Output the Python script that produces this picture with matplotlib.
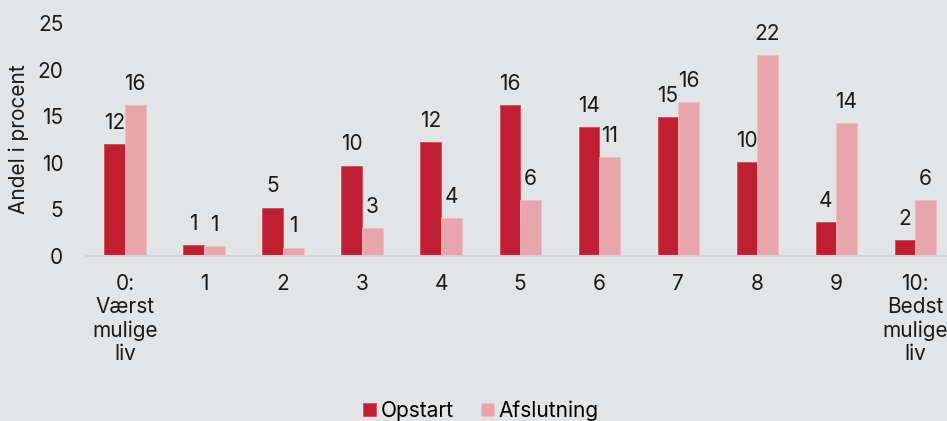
import numpy as np
import matplotlib.pyplot as plt

plt.rcParams['font.family'] = ['Inter', 'DejaVu Sans']

# data
categories = ["0:\nVærst\nmulige\nliv", "1", "2", "3", "4", "5", "6", "7", "8", "9",
              "10:\nBedst\nmulige\nliv"]
opstart = [12.0, 1.2, 5.2, 9.7, 12.2, 16.2, 13.8, 14.9, 10.1, 3.6, 1.7]
afslutning = [16.2, 1.1, 0.9, 3.0, 4.1, 6.0, 10.6, 16.5, 21.6, 14.3, 6.0]
opstart_labels = [12, 1, 5, 10, 12, 16, 14, 15, 10, 4, 2]
afslutning_labels = [16, 1, 1, 3, 4, 6, 11, 16, 22, 14, 6]

BG = "#e3e4e6"
RED = "#c01f32"
PINK = "#e8a6ac"
FS = 15

fig = plt.figure(figsize=(9.47, 4.21), dpi=100, facecolor=BG)
ax = fig.add_axes([0.0903, 0.392, 0.9177, 0.5534])
ax.set_facecolor(BG)

x = np.arange(len(categories))
w = 0.26
b1 = ax.bar(x - w / 2, opstart, w, color=RED, edgecolor="#d24a58", linewidth=0.6, label="Opstart")
b2 = ax.bar(x + w / 2, afslutning, w, color=PINK, edgecolor="#efbcc0", linewidth=0.6, label="Afslutning")

for bars, labels in ((b1, opstart_labels), (b2, afslutning_labels)):
    for bar, lab in zip(bars, labels):
        ax.annotate(str(lab), (bar.get_x() + bar.get_width() / 2, bar.get_height()),
                    xytext=(0, 8), textcoords="offset points",
                    ha="center", va="bottom", fontsize=FS, color="#1a1a1a")

ax.set_xlim(-0.5, len(categories) - 0.5)
ax.set_ylim(0, 25)
ax.set_yticks([0, 5, 10, 15, 20, 25])
ax.set_xticks(x)
ax.set_xticklabels(categories, fontsize=FS, linespacing=1.2)
ax.tick_params(axis="y", length=0, pad=16, labelsize=FS, labelcolor="#1a1a1a")
ax.tick_params(axis="x", length=0, pad=13, labelcolor="#1a1a1a")
ax.set_ylabel("Andel i procent", fontsize=FS, labelpad=6, color="#1a1a1a")

for s in ("top", "right", "left"):
    ax.spines[s].set_visible(False)
ax.spines["bottom"].set_color("#d2d3d5")
ax.spines["bottom"].set_linewidth(1.5)

fig.legend(handles=[b1, b2], loc="lower center", bbox_to_anchor=(0.508, -0.045), ncol=2,
           frameon=False, fontsize=FS, handlelength=0.6, handleheight=0.6,
           handletextpad=0.25, columnspacing=1.3)

fig.savefig("out.png", dpi=100, facecolor=BG)
